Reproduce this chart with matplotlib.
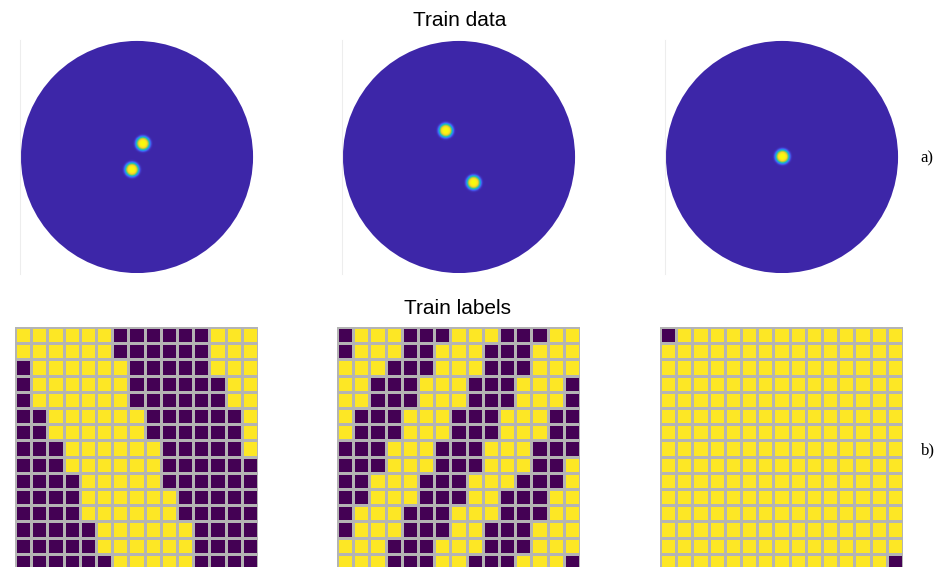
import numpy as np
import matplotlib
matplotlib.use('Agg')
import matplotlib.pyplot as plt
from matplotlib.colors import LinearSegmentedColormap, ListedColormap
from matplotlib.patches import Circle

# spot centres on the unit disc, one list per sample
spots_1 = [(0.047, 0.112), (-0.047, -0.112)]
spots_2 = [(-0.118, 0.224), (0.122, -0.224)]
spots_3 = [(0.0, 0.0)]
train_spots = [spots_1, spots_2, spots_3]

# 15x15 label maps, '1' = yellow cell, '0' = purple cell
labels_1 = [
    '111111000000111',
    '111111000000111',
    '011111100000111',
    '011111100000011',
    '011111100000011',
    '001111110000001',
    '001111110000001',
    '000111111000001',
    '000111111000000',
    '000011111000000',
    '000011111100000',
    '000011111100000',
    '000001111110000',
    '000001111110000',
    '000000111110000',
]
labels_2 = [
    '011100011100011',
    '011100111000111',
    '111000111000111',
    '110001110001110',
    '110001110001110',
    '100011100011100',
    '100011100011100',
    '000111000111000',
    '000111000111001',
    '001110001110001',
    '001110001100011',
    '011100011100011',
    '011100011000111',
    '111000111000111',
    '111000110001110',
]
labels_3 = [
    '011111111111111',
    '111111111111111',
    '111111111111111',
    '111111111111111',
    '111111111111111',
    '111111111111111',
    '111111111111111',
    '111111111111111',
    '111111111111111',
    '111111111111111',
    '111111111111111',
    '111111111111111',
    '111111111111111',
    '111111111111111',
    '111111111111110',
]
train_labels = [labels_1, labels_2, labels_3]

# old-style parula
parula = LinearSegmentedColormap.from_list('parula', [
    (0.00, (0.2422, 0.1504, 0.6603)),
    (0.15, (0.2780, 0.3556, 0.9777)),
    (0.30, (0.1540, 0.5902, 0.9218)),
    (0.45, (0.0200, 0.7248, 0.7815)),
    (0.55, (0.2586, 0.8073, 0.5767)),
    (0.70, (0.6720, 0.7793, 0.2227)),
    (0.85, (0.9892, 0.8136, 0.1885)),
    (1.00, (0.9763, 0.9831, 0.0538)),
])
binmap = ListedColormap(['#440154', '#fde725'])

W, H = 940, 567
fig = plt.figure(figsize=(W / 100, H / 100), dpi=100)


def px_axes(x0, y0, x1, y1):
    # axes from pixel box (top-left origin)
    return fig.add_axes([x0 / W, 1 - y1 / H, (x1 - x0) / W, (y1 - y0) / H])


n = 300
xs = np.linspace(-1, 1, n)
X, Y = np.meshgrid(xs, xs)
spot_w = 0.058

circle_left = [21, 343, 666]
for left, spots in zip(circle_left, train_spots):
    ax = px_axes(left - 1, 40, left + 233, 274)
    field = np.zeros_like(X)
    for cx, cy in spots:
        r2 = ((X - cx) ** 2 + (Y - cy) ** 2) / spot_w ** 2
        field = np.maximum(field, np.exp(-r2 ** 2))
    im = ax.imshow(field, cmap=parula, vmin=0, vmax=1, origin='lower',
                   extent=[-1, 1, -1, 1], interpolation='bilinear')
    im.set_clip_path(Circle((0, 0), 1.0, transform=ax.transData))
    ax.set_xlim(-1.008, 1.008)
    ax.set_ylim(-1.008, 1.008)
    ax.set_xticks([])
    ax.set_yticks([])
    for side in ['top', 'right', 'bottom']:
        ax.spines[side].set_visible(False)
    ax.spines['left'].set_color('#ededed')
    ax.spines['left'].set_linewidth(0.8)

grid_left = [15, 337, 660]
for left, rows in zip(grid_left, train_labels):
    ax = px_axes(left, 327, left + 243, 327 + 243)
    arr = np.array([[int(c) for c in r] for r in rows])
    ax.pcolormesh(arr, cmap=binmap, vmin=0, vmax=1,
                  edgecolors='#b4b4b4', linewidth=0.8)
    ax.set_xlim(0, arr.shape[1])
    ax.set_ylim(arr.shape[0], 0)
    ax.axis('off')

fig.text(460 / W, 1 - 21 / H, 'Train data', ha='center', va='center',
         fontsize=15, family='Liberation Sans')
fig.text(458 / W, 1 - 309 / H, 'Train labels', ha='center', va='center',
         fontsize=15, family='Liberation Sans')
fig.text(927 / W, 1 - 158 / H, 'a)', ha='center', va='center',
         fontsize=12, family='Liberation Serif')
fig.text(928 / W, 1 - 450 / H, 'b)', ha='center', va='center',
         fontsize=12, family='Liberation Serif')

fig.savefig('out.png', dpi=100)
